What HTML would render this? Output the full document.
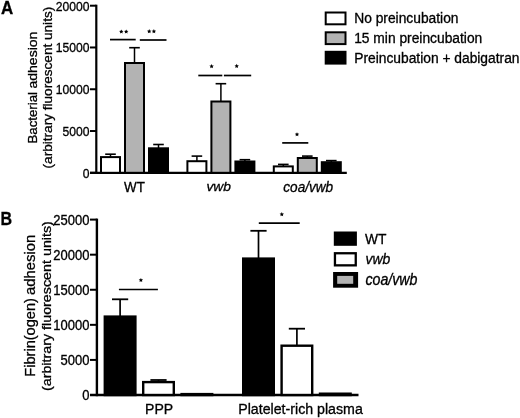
<!DOCTYPE html>
<html><head><meta charset="utf-8"><style>
html,body{margin:0;padding:0;background:#fff;width:520px;height:418px;overflow:hidden;}
svg{display:block;}
#w{filter:blur(0.45px);width:520px;height:418px;}
text{font-family:"Liberation Sans",sans-serif;fill:#000;stroke:#000;stroke-width:0.3px;}
</style></head><body><div id="w">
<svg width="520" height="418" viewBox="0 0 520 418">
<rect width="520" height="418" fill="#fff"/>
<text transform="translate(1.00,13.50) scale(1.0,1.04)" font-size="16.9" text-anchor="start" font-weight="bold">A</text>
<line x1="96.3" y1="4.7" x2="96.3" y2="173.9" stroke="#000" stroke-width="2.2"/>
<line x1="90" y1="5.70" x2="96.3" y2="5.70" stroke="#000" stroke-width="2"/>
<text transform="translate(89.50,10.65) scale(0.97,1.08)" font-size="12.5" text-anchor="end">20000</text>
<line x1="90" y1="47.47" x2="96.3" y2="47.47" stroke="#000" stroke-width="2"/>
<text transform="translate(89.50,52.42) scale(0.97,1.08)" font-size="12.5" text-anchor="end">15000</text>
<line x1="90" y1="89.25" x2="96.3" y2="89.25" stroke="#000" stroke-width="2"/>
<text transform="translate(89.50,94.20) scale(0.97,1.08)" font-size="12.5" text-anchor="end">10000</text>
<line x1="90" y1="131.03" x2="96.3" y2="131.03" stroke="#000" stroke-width="2"/>
<text transform="translate(89.50,135.97) scale(0.97,1.08)" font-size="12.5" text-anchor="end">5000</text>
<line x1="90" y1="172.80" x2="96.3" y2="172.80" stroke="#000" stroke-width="2"/>
<text transform="translate(89.50,177.75) scale(0.97,1.08)" font-size="12.5" text-anchor="end">0</text>
<line x1="90" y1="172.8" x2="346.8" y2="172.8" stroke="#000" stroke-width="2.2"/>
<line x1="110.50" y1="154.2" x2="110.50" y2="157.1" stroke="#000" stroke-width="1.5"/>
<line x1="105.20" y1="154.2" x2="115.80" y2="154.2" stroke="#000" stroke-width="1.6"/>
<rect x="101.00" y="157.1" width="19" height="15.70" fill="#fff" stroke="#000" stroke-width="2"/>
<line x1="134.50" y1="47.7" x2="134.50" y2="63.0" stroke="#000" stroke-width="1.5"/>
<line x1="129.20" y1="47.7" x2="139.80" y2="47.7" stroke="#000" stroke-width="1.6"/>
<rect x="125.00" y="63.0" width="19" height="109.80" fill="#b3b3b3" stroke="#000" stroke-width="2"/>
<line x1="158.50" y1="144.5" x2="158.50" y2="148.3" stroke="#000" stroke-width="1.5"/>
<line x1="153.20" y1="144.5" x2="163.80" y2="144.5" stroke="#000" stroke-width="1.6"/>
<rect x="149.00" y="148.3" width="19" height="24.50" fill="#000" stroke="#000" stroke-width="2"/>
<line x1="196.90" y1="156.1" x2="196.90" y2="161.2" stroke="#000" stroke-width="1.5"/>
<line x1="191.60" y1="156.1" x2="202.20" y2="156.1" stroke="#000" stroke-width="1.6"/>
<rect x="187.40" y="161.2" width="19" height="11.60" fill="#fff" stroke="#000" stroke-width="2"/>
<line x1="220.90" y1="83.7" x2="220.90" y2="101.5" stroke="#000" stroke-width="1.5"/>
<line x1="215.60" y1="83.7" x2="226.20" y2="83.7" stroke="#000" stroke-width="1.6"/>
<rect x="211.40" y="101.5" width="19" height="71.30" fill="#b3b3b3" stroke="#000" stroke-width="2"/>
<line x1="244.90" y1="159.7" x2="244.90" y2="161.5" stroke="#000" stroke-width="1.5"/>
<line x1="239.60" y1="159.7" x2="250.20" y2="159.7" stroke="#000" stroke-width="1.6"/>
<rect x="235.40" y="161.5" width="19" height="11.30" fill="#000" stroke="#000" stroke-width="2"/>
<line x1="283.30" y1="164.4" x2="283.30" y2="166.4" stroke="#000" stroke-width="1.5"/>
<line x1="278.00" y1="164.4" x2="288.60" y2="164.4" stroke="#000" stroke-width="1.6"/>
<rect x="273.80" y="166.4" width="19" height="6.40" fill="#fff" stroke="#000" stroke-width="2"/>
<line x1="307.30" y1="156.1" x2="307.30" y2="158.0" stroke="#000" stroke-width="1.5"/>
<line x1="302.00" y1="156.1" x2="312.60" y2="156.1" stroke="#000" stroke-width="1.6"/>
<rect x="297.80" y="158.0" width="19" height="14.80" fill="#b3b3b3" stroke="#000" stroke-width="2"/>
<line x1="331.30" y1="160.6" x2="331.30" y2="162.2" stroke="#000" stroke-width="1.5"/>
<line x1="326.00" y1="160.6" x2="336.60" y2="160.6" stroke="#000" stroke-width="1.6"/>
<rect x="321.80" y="162.2" width="19" height="10.60" fill="#000" stroke="#000" stroke-width="2"/>
<line x1="110" y1="39.6" x2="135.7" y2="39.6" stroke="#000" stroke-width="1.7"/>
<line x1="139.8" y1="40" x2="166.5" y2="40" stroke="#000" stroke-width="1.7"/>
<line x1="198.3" y1="75.5" x2="222.3" y2="75.5" stroke="#000" stroke-width="1.7"/>
<line x1="223.9" y1="75.5" x2="251.2" y2="75.5" stroke="#000" stroke-width="1.7"/>
<line x1="282.2" y1="142.9" x2="308.3" y2="142.9" stroke="#000" stroke-width="1.7"/>
<polygon points="121.30,29.40 121.95,30.81 123.49,30.99 122.35,32.04 122.65,33.56 121.30,32.80 119.95,33.56 120.25,32.04 119.11,30.99 120.65,30.81" fill="#000"/>
<polygon points="126.20,29.40 126.85,30.81 128.39,30.99 127.25,32.04 127.55,33.56 126.20,32.80 124.85,33.56 125.15,32.04 124.01,30.99 125.55,30.81" fill="#000"/>
<polygon points="149.20,29.10 149.85,30.51 151.39,30.69 150.25,31.74 150.55,33.26 149.20,32.50 147.85,33.26 148.15,31.74 147.01,30.69 148.55,30.51" fill="#000"/>
<polygon points="153.90,29.10 154.55,30.51 156.09,30.69 154.95,31.74 155.25,33.26 153.90,32.50 152.55,33.26 152.85,31.74 151.71,30.69 153.25,30.51" fill="#000"/>
<polygon points="211.60,64.00 212.25,65.41 213.79,65.59 212.65,66.64 212.95,68.16 211.60,67.40 210.25,68.16 210.55,66.64 209.41,65.59 210.95,65.41" fill="#000"/>
<polygon points="236.70,63.80 237.35,65.21 238.89,65.39 237.75,66.44 238.05,67.96 236.70,67.20 235.35,67.96 235.65,66.44 234.51,65.39 236.05,65.21" fill="#000"/>
<polygon points="297.00,132.20 297.65,133.61 299.19,133.79 298.05,134.84 298.35,136.36 297.00,135.60 295.65,136.36 295.95,134.84 294.81,133.79 296.35,133.61" fill="#000"/>
<text transform="translate(134.50,191.60) scale(1.0,1.14)" font-size="13.4" text-anchor="middle">WT</text>
<text transform="translate(218.65,191.30) scale(1.0,0.98)" font-size="13.8" text-anchor="middle" font-style="italic">vwb</text>
<text transform="translate(308.25,191.50) scale(1.0,1.04)" font-size="13.6" text-anchor="middle" font-style="italic">coa/vwb</text>
<text transform="translate(37.00,143.55) rotate(-90) scale(0.975,1.0)" font-size="13.6" text-anchor="start">Bacterial</text>
<text transform="translate(37.00,31.65) rotate(-90) scale(1.031,1.0)" font-size="13.6" text-anchor="end">adhesion</text>
<text transform="translate(52.20,87.60) rotate(-90)" font-size="13.6" text-anchor="middle">(arbitrary fluorescent units)</text>
<rect x="325.7" y="12.5" width="19.8" height="11.8" fill="#fff" stroke="#000" stroke-width="2"/>
<text x="354.2" y="23.1" font-size="13.8">No preincubation</text>
<rect x="325.7" y="32.3" width="19.8" height="11.8" fill="#b3b3b3" stroke="#000" stroke-width="2"/>
<text x="354.2" y="42.8" font-size="13.8">15 min preincubation</text>
<rect x="325.7" y="51.8" width="19.8" height="11.8" fill="#000" stroke="#000" stroke-width="2"/>
<text x="354.2" y="62.6" font-size="13.8">Preincubation + dabigatran</text>
<text transform="translate(0.60,224.60) scale(0.9,1.0)" font-size="17.8" text-anchor="start" font-weight="bold">B</text>
<line x1="96.9" y1="218.6" x2="96.9" y2="396.2" stroke="#000" stroke-width="2.4"/>
<line x1="90" y1="219.60" x2="96.9" y2="219.60" stroke="#000" stroke-width="2"/>
<text transform="translate(89.40,224.55) scale(1.0,1.09)" font-size="13.0" text-anchor="end">25000</text>
<line x1="90" y1="254.68" x2="96.9" y2="254.68" stroke="#000" stroke-width="2"/>
<text transform="translate(89.40,259.63) scale(1.0,1.09)" font-size="13.0" text-anchor="end">20000</text>
<line x1="90" y1="289.76" x2="96.9" y2="289.76" stroke="#000" stroke-width="2"/>
<text transform="translate(89.40,294.71) scale(1.0,1.09)" font-size="13.0" text-anchor="end">15000</text>
<line x1="90" y1="324.84" x2="96.9" y2="324.84" stroke="#000" stroke-width="2"/>
<text transform="translate(89.40,329.79) scale(1.0,1.09)" font-size="13.0" text-anchor="end">10000</text>
<line x1="90" y1="359.92" x2="96.9" y2="359.92" stroke="#000" stroke-width="2"/>
<text transform="translate(89.40,364.87) scale(1.0,1.09)" font-size="13.0" text-anchor="end">5000</text>
<line x1="90" y1="395.00" x2="96.9" y2="395.00" stroke="#000" stroke-width="2"/>
<text transform="translate(89.40,399.95) scale(1.0,1.09)" font-size="13.0" text-anchor="end">0</text>
<line x1="90" y1="395.0" x2="358.5" y2="395.0" stroke="#000" stroke-width="2.3"/>
<line x1="120.10" y1="299.3" x2="120.10" y2="316.4" stroke="#000" stroke-width="1.7"/>
<line x1="112.00" y1="299.3" x2="128.20" y2="299.3" stroke="#000" stroke-width="1.8"/>
<rect x="104.80" y="316.59999999999997" width="30.6" height="78.40" fill="#000" stroke="#000" stroke-width="2.4"/>
<line x1="158.50" y1="380.0" x2="158.50" y2="381.9" stroke="#000" stroke-width="1.7"/>
<line x1="150.40" y1="380.0" x2="166.60" y2="380.0" stroke="#000" stroke-width="1.8"/>
<rect x="143.20" y="382.09999999999997" width="30.6" height="12.90" fill="#fff" stroke="#000" stroke-width="2.4"/>
<rect x="181.60" y="394.09999999999997" width="30.6" height="0.90" fill="#b3b3b3" stroke="#000" stroke-width="2.4"/>
<line x1="258.50" y1="230.8" x2="258.50" y2="258.4" stroke="#000" stroke-width="1.7"/>
<line x1="250.40" y1="230.8" x2="266.60" y2="230.8" stroke="#000" stroke-width="1.8"/>
<rect x="243.20" y="258.59999999999997" width="30.6" height="136.40" fill="#000" stroke="#000" stroke-width="2.4"/>
<line x1="296.90" y1="328.7" x2="296.90" y2="345.5" stroke="#000" stroke-width="1.7"/>
<line x1="288.80" y1="328.7" x2="305.00" y2="328.7" stroke="#000" stroke-width="1.8"/>
<rect x="281.60" y="345.7" width="30.6" height="49.30" fill="#fff" stroke="#000" stroke-width="2.4"/>
<rect x="320.00" y="393.7" width="30.6" height="1.30" fill="#b3b3b3" stroke="#000" stroke-width="2.4"/>
<line x1="118.9" y1="289.5" x2="157.9" y2="289.5" stroke="#000" stroke-width="1.7"/>
<line x1="258.8" y1="223.2" x2="299.7" y2="223.2" stroke="#000" stroke-width="1.7"/>
<polygon points="140.90,277.90 141.55,279.31 143.09,279.49 141.95,280.54 142.25,282.06 140.90,281.30 139.55,282.06 139.85,280.54 138.71,279.49 140.25,279.31" fill="#000"/>
<polygon points="281.80,212.00 282.45,213.41 283.99,213.59 282.85,214.64 283.15,216.16 281.80,215.40 280.45,216.16 280.75,214.64 279.61,213.59 281.15,213.41" fill="#000"/>
<text transform="translate(159.10,413.60) scale(1.0,1.09)" font-size="14.07" text-anchor="middle">PPP</text>
<text transform="translate(300.50,413.60) scale(1.0,1.07)" font-size="14.2" text-anchor="middle">Platelet-rich plasma</text>
<text transform="translate(34.70,376.71) rotate(-90) scale(1.0,0.95)" font-size="14.6" text-anchor="start">Fibrin(ogen)</text>
<text transform="translate(34.70,234.69) rotate(-90) scale(1.019,0.95)" font-size="14.6" text-anchor="end">adhesion</text>
<text transform="translate(51.40,306.10) rotate(-90) scale(1.0,0.95)" font-size="14.3" text-anchor="middle">(arbitrary fluorescent units)</text>
<rect x="333.8" y="231.5" width="23.1" height="14.3" fill="#000"/>
<rect x="334.95" y="253.25" width="20.8" height="12.1" fill="#fff" stroke="#000" stroke-width="2.3"/>
<rect x="333.1" y="272" width="25" height="15.7" fill="#000"/><rect x="337.2" y="275.9" width="16" height="7.9" fill="#b3b3b3"/>
<text transform="translate(364.90,243.50) scale(1.0,1.09)" font-size="13.8" text-anchor="start">WT</text>
<text transform="translate(365.40,264.30) scale(1.0,1.11)" font-size="14.0" text-anchor="start" font-style="italic">vwb</text>
<text transform="translate(365.40,284.70) scale(1.0,1.11)" font-size="14.2" text-anchor="start" font-style="italic">coa/vwb</text>
</svg>
</div></body></html>
